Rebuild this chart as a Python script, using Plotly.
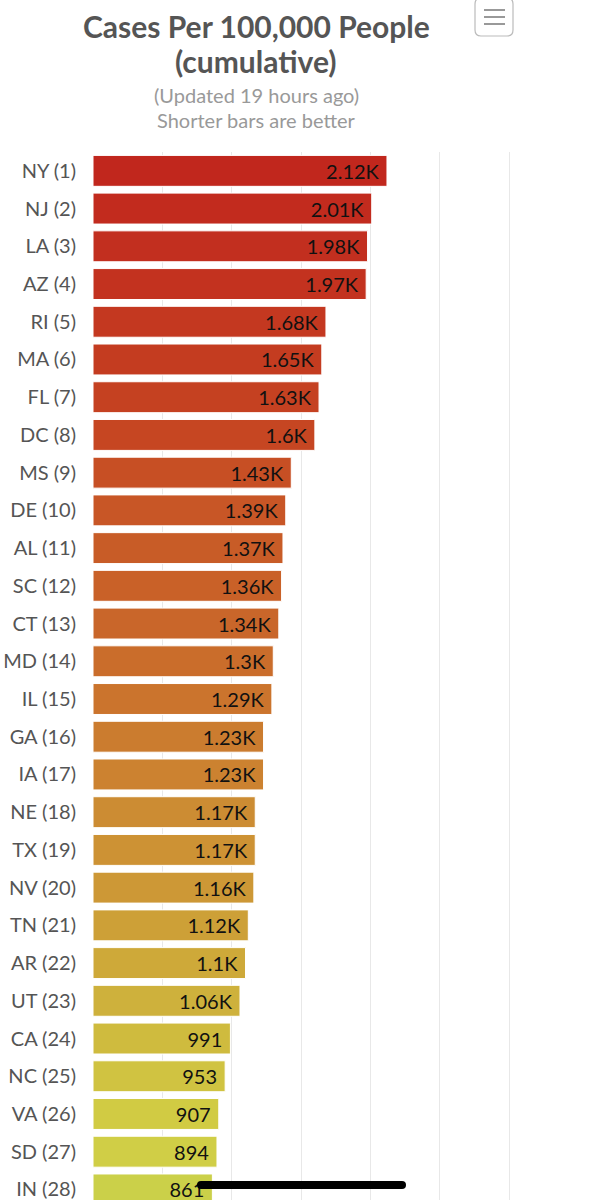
import plotly.graph_objects as go

states = ["NY", "NJ", "LA", "AZ", "RI", "MA", "FL", "DC", "MS", "DE", "AL", "SC", "CT", "MD",
          "IL", "GA", "IA", "NE", "TX", "NV", "TN", "AR", "UT", "CA", "NC", "VA", "SD", "IN"]
cases_per_100k = [2120, 2010, 1980, 1970, 1680, 1650, 1630, 1600, 1430, 1390, 1370, 1360, 1340, 1300,
                  1290, 1230, 1230, 1170, 1170, 1160, 1120, 1100, 1060, 991, 953, 907, 894, 861]
bar_colors = ["#c1271d", "#c22b1e", "#c22f1f", "#c3321f", "#c43820", "#c43c20", "#c54121", "#c64622",
              "#c74f24", "#c85626", "#c85c27", "#c96128", "#c9662a", "#ca6d2b", "#cb742d", "#cb7c2f",
              "#cc8230", "#cc8c33", "#cd9234", "#cd9836", "#cda037", "#cea939", "#ceb13c", "#cfbb3e",
              "#d0c341", "#d1cb43", "#d0ce46", "#cbd049"]
title_lines = ["Cases Per 100,000 People", "(cumulative)"]
subtitle_lines = ["(Updated 19 hours ago)", "Shorter bars are better"]

categories = [f"{s} ({i + 1})" for i, s in enumerate(states)]


def fmt(v):
    if v >= 1000:
        return f"{v / 1000:.3g}K"
    return str(v)


labels = [fmt(v) + "\u00a0" for v in cases_per_100k]

W, H = 607, 1200
L, R, T, B = 93, 96, 152, 0
PW, PH = W - L - R, H - T - B
XMAX = 3000 * PW / 416.0


def px(x):
    return (x - L) / PW


def py(y):
    return (H - B - y) / PH


FONT = "Source Sans Pro, Lato, sans-serif"


def pill(x0, x1, yc, h):
    r = h / 2
    return (f"M {px(x0 + r)} {py(yc - r)} L {px(x1 - r)} {py(yc - r)} "
            f"Q {px(x1)} {py(yc - r)} {px(x1)} {py(yc)} Q {px(x1)} {py(yc + r)} {px(x1 - r)} {py(yc + r)} "
            f"L {px(x0 + r)} {py(yc + r)} Q {px(x0)} {py(yc + r)} {px(x0)} {py(yc)} "
            f"Q {px(x0)} {py(yc - r)} {px(x0 + r)} {py(yc - r)} Z")


fig = go.Figure(go.Bar(
    x=cases_per_100k,
    y=categories,
    orientation="h",
    marker=dict(color=bar_colors, line=dict(color="white", width=1)),
    width=0.82,
    text=labels,
    textposition="inside",
    insidetextanchor="end",
    textfont=dict(family=FONT, size=20, color="#111111"),
    hoverinfo="skip",
))

annotations = []
for text, yc in zip(title_lines, [26, 61]):
    annotations.append(dict(text=f"<b>{text}</b>", xref="paper", yref="paper", x=px(256), y=py(yc),
                            xanchor="center", yanchor="middle", showarrow=False,
                            font=dict(family=FONT, size=30, color="#555555")))
for text, yc in zip(subtitle_lines, [95, 120]):
    annotations.append(dict(text=text, xref="paper", yref="paper", x=px(256), y=py(yc),
                            xanchor="center", yanchor="middle", showarrow=False,
                            font=dict(family=FONT, size=20, color="#999999")))

fig.update_layout(
    width=W, height=H,
    margin=dict(l=L, r=R, t=T, b=B),
    paper_bgcolor="white", plot_bgcolor="white",
    showlegend=False,
    font=dict(family=FONT),
    xaxis=dict(range=[0, XMAX], dtick=500, tick0=0, showgrid=True, gridcolor="#e8e8e8", gridwidth=1,
               showticklabels=False, zeroline=False, showline=False, fixedrange=True),
    yaxis=dict(autorange=False, range=[27.28, -0.5], type="category", showgrid=False,
               tickfont=dict(family=FONT, size=20, color="#555555"), ticks="",
               ticklabelstandoff=16, zeroline=False, showline=False, fixedrange=True),
    annotations=annotations,
    shapes=[
        dict(type="path", xref="paper", yref="paper",
             path=(f"M {px(481)} {py(-2)} L {px(507)} {py(-2)} Q {px(513)} {py(-2)} {px(513)} {py(4)} "
                   f"L {px(513)} {py(30)} Q {px(513)} {py(36)} {px(507)} {py(36)} "
                   f"L {px(481)} {py(36)} Q {px(475)} {py(36)} {px(475)} {py(30)} "
                   f"L {px(475)} {py(4)} Q {px(475)} {py(-2)} {px(481)} {py(-2)} Z"),
             line=dict(color="#bbbbbb", width=1.2), fillcolor="white"),
        dict(type="line", xref="paper", yref="paper", x0=px(484), x1=px(505), y0=py(10), y1=py(10),
             line=dict(color="#777777", width=1.5)),
        dict(type="line", xref="paper", yref="paper", x0=px(484), x1=px(505), y0=py(17), y1=py(17),
             line=dict(color="#777777", width=1.5)),
        dict(type="line", xref="paper", yref="paper", x0=px(484), x1=px(505), y0=py(24), y1=py(24),
             line=dict(color="#777777", width=1.5)),
        dict(type="path", xref="paper", yref="paper", path=pill(197, 406, 1185, 8),
             fillcolor="black", line=dict(width=0)),
    ],
)

fig.write_html("out.html")
